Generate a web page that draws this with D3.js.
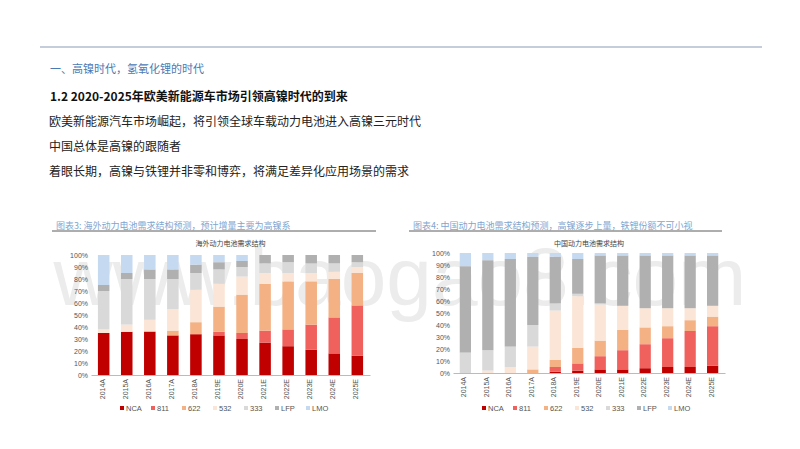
<!DOCTYPE html>
<html><head><meta charset="utf-8">
<script src="https://cdn.jsdelivr.net/npm/d3@7"></script>
<style>body{margin:0;background:#fff;font-family:"Noto Sans CJK SC",sans-serif}</style>
</head><body><svg id="c" width="800" height="449"></svg>
<script>
// series order, bottom to top
var seriesNames = ["NCA", "811", "622", "532", "333", "LFP", "LMO"];
var colors = ["#c00000", "#f0605d", "#f4b183", "#fbe5d6", "#d9d9d9", "#b0b0b0", "#c5d9f1"];
var years = ["2014A","2015A","2016A","2017A","2018A","2019E","2020E","2021E","2022E","2023E","2024E","2025E"];

// overseas demand structure (%)
var osNCA = [35,36,36,33,34,33,30,27,24,21,18,16];
var os811 = [0,0,0,0,0,3,5,10,14,21,30,42];
var os622 = [0,0,1,4,10,21,32,39,40,36,32,27];
var os532 = [3,6,9,18,27,19,15,9,7,7,6,5];
var os333 = [32,38,34,25,14,12,8,8,9,8,7,4];
var osLFP = [5,5,8,8,7,6,5,7,6,7,7,6];
var osLMO = [25,15,12,12,8,6,5,0,0,0,0,0];

// China demand structure (%)
var cnNCA = [0,0,0,0,1,2,3,3,4,5,5,6];
var cn811 = [0,0,0,0,4,6,11,16,20,24,30,33];
var cn622 = [0,0,0,3,6,13,13,17,14,10,9,8];
var cn532 = [0,2,5,19,41,43,30,20,16,15,10,9];
var cn333 = [17,17,17,18,6,2,1,0,0,0,0,0];
var cnLFP = [72,75,73,57,39,29,40,42,44,44,44,42];
var cnLMO = [11,6,5,3,3,5,2,2,2,2,2,2];

var svg = d3.select("#c");

// watermark sits behind everything
svg.append("text").attr("x",400).attr("y",305).attr("text-anchor","middle").attr("font-size",82)
  .attr("font-family","Liberation Sans").attr("fill","#ececec").text("www.baogao8.com");

// page header
svg.append("line").attr("x1",40).attr("x2",762).attr("y1",47).attr("y2",47).attr("stroke","#8a9bb5");
svg.append("text").attr("x",50).attr("y",73).attr("font-size",11).attr("fill","#4a7ab5").text("一、高镍时代，氢氧化锂的时代");
svg.append("text").attr("x",50).attr("y",101).attr("font-size",12).attr("font-weight","bold").attr("fill","#111").text("1.2 2020-2025年欧美新能源车市场引领高镍时代的到来");
var lines = ["欧美新能源汽车市场崛起，将引领全球车载动力电池进入高镍三元时代","中国总体是高镍的跟随者","着眼长期，高镍与铁锂并非零和博弈，将满足差异化应用场景的需求"];
lines.forEach(function(t, i) {
  svg.append("text").attr("x",49).attr("y",126 + i*25).attr("font-size",12).attr("fill","#222").text(t);
});

function drawChart(cfg) {
  var g = svg.append("g");
  g.append("text").attr("x",cfg.titleX).attr("y",229).attr("font-size",9).attr("fill","#7fa6d0").text(cfg.fig);
  g.append("line").attr("x1",cfg.titleX - 4).attr("x2",cfg.lineEnd).attr("y1",231).attr("y2",231).attr("stroke","#333").attr("stroke-width",0.8);
  g.append("text").attr("x",(cfg.x0+cfg.x1)/2).attr("y",246).attr("text-anchor","middle").attr("font-size",7).attr("fill","#444").text(cfg.title);

  var x = d3.scaleBand().domain(years).range([cfg.x0, cfg.x1]).paddingInner(0.5).paddingOuter(0.3);
  var y = d3.scaleLinear().domain([0,100]).range([cfg.yb, cfg.yt]);

  var rows = years.map(function(yr, i) {
    var r = {year: yr};
    seriesNames.forEach(function(s, k) { r[s] = cfg.data[k][i]; });
    return r;
  });
  var stack = d3.stack().keys(seriesNames)(rows);
  stack.forEach(function(layer, k) {
    g.selectAll(null).data(layer).enter().append("rect")
      .attr("x", function(d) { return x(d.data.year); })
      .attr("width", x.bandwidth())
      .attr("y", function(d) { return y(d[1]); })
      .attr("height", function(d) { return y(d[0]) - y(d[1]); })
      .attr("fill", colors[k]);
  });

  var ya = g.append("g").attr("transform","translate(" + cfg.x0 + ",0)")
    .call(d3.axisLeft(y).tickValues(d3.range(0,101,10)).tickFormat(function(d){return d+"%";}).tickSize(0));
  ya.select(".domain").remove();
  ya.selectAll("text").attr("font-size",7).attr("fill","#555").attr("font-family","Liberation Sans");

  var xa = g.append("g").attr("transform","translate(0," + cfg.yb + ")")
    .call(d3.axisBottom(x).tickSize(0));
  xa.select(".domain").attr("stroke","#bbb");
  xa.selectAll("text").attr("font-size",7).attr("fill","#555").attr("font-family","Liberation Sans")
    .attr("transform","rotate(-90)").attr("text-anchor","end").attr("dx",-4).attr("dy",-2);

  var lg = g.append("g");
  seriesNames.forEach(function(s, k) {
    var lx = cfg.legX + k * 31;
    lg.append("rect").attr("x",lx).attr("y",cfg.legY - 5).attr("width",4).attr("height",4).attr("fill",colors[k]);
    lg.append("text").attr("x",lx + 6).attr("y",cfg.legY).attr("font-size",7.5).attr("fill","#555").attr("font-family","Liberation Sans").text(s);
  });
}

drawChart({
  fig:"图表3: 海外动力电池需求结构预测，预计增量主要为高镍系", title:"海外动力电池需求结构",
  titleX:56, lineEnd:376, x0:91, x1:370, yt:255, yb:375, legX:120, legY:411,
  data:[osNCA, os811, os622, os532, os333, osLFP, osLMO]
});
drawChart({
  fig:"图表4: 中国动力电池需求结构预测，高镍逐步上量，铁锂份额不可小视", title:"中国动力电池需求结构",
  titleX:413, lineEnd:722, x0:453, x1:725, yt:253, yb:373, legX:482, legY:411,
  data:[cnNCA, cn811, cn622, cn532, cn333, cnLFP, cnLMO]
});
</script></body></html>
